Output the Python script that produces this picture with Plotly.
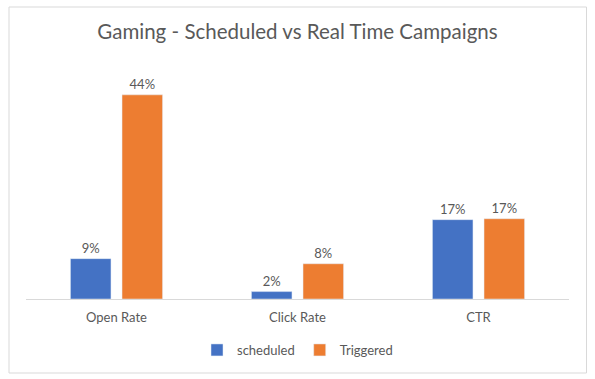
import plotly.graph_objects as go

categories = ["Open Rate", "Click Rate", "CTR"]
scheduled = [0.087, 0.016, 0.171]
triggered = [0.44, 0.076, 0.173]
series_names = ["scheduled", "Triggered"]
title_text = "Gaming - Scheduled vs Real Time Campaigns"

W, H = 595, 379
L, R, T, B = 26, 26, 67, 80
FONT = "Lato"
GRAY = "#595959"

fig = go.Figure()
fig.add_trace(go.Bar(
    x=categories, y=scheduled, name=series_names[0],
    marker_color="#4472C4",
    text=[f"{v:.0%}" for v in scheduled], textposition="outside",
    textfont=dict(size=13, color=GRAY, family=FONT), cliponaxis=False,
))
fig.add_trace(go.Bar(
    x=categories, y=triggered, name=series_names[1],
    marker_color="#ED7D31",
    text=[f"{v:.0%}" for v in triggered], textposition="outside",
    textfont=dict(size=13, color=GRAY, family=FONT), cliponaxis=False,
))

pw = W - L - R
ph = H - T - B
def px_x(x):
    return (x - L) / pw
def px_y(y):
    return (H - B - y) / ph

fig.update_layout(
    width=W, height=H,
    margin=dict(l=L, r=R, t=T, b=B),
    paper_bgcolor="white", plot_bgcolor="white",
    font=dict(family=FONT, color=GRAY, size=13),
    title=dict(text=title_text, x=0.5, xanchor="center", y=1 - 32 / H, yanchor="middle",
               font=dict(size=20.5, color=GRAY, family=FONT)),
    barmode="group", bargap=0.43, bargroupgap=0.214,
    showlegend=True,
    legend=dict(orientation="h", x=0.5, xanchor="center", y=px_y(350), yanchor="middle",
                font=dict(size=13, color=GRAY, family=FONT), itemwidth=30,
                traceorder="normal"),
    xaxis=dict(showline=True, linecolor="#D9D9D9", linewidth=1, ticks="outside",
               ticklen=6, tickcolor="rgba(0,0,0,0)", tickfont=dict(size=13, color=GRAY),
               fixedrange=True),
    yaxis=dict(range=[0, 0.5], visible=False, showgrid=False, zeroline=False, fixedrange=True),
    shapes=[dict(type="rect", xref="paper", yref="paper",
                 x0=px_x(9), x1=px_x(586.5), y0=px_y(373), y1=px_y(7),
                 line=dict(color="#D9D9D9", width=1), fillcolor="rgba(0,0,0,0)", layer="below")],
)

fig.write_html("out.html", config={"displayModeBar": False},
               post_script="document.body.style.margin='0';")
